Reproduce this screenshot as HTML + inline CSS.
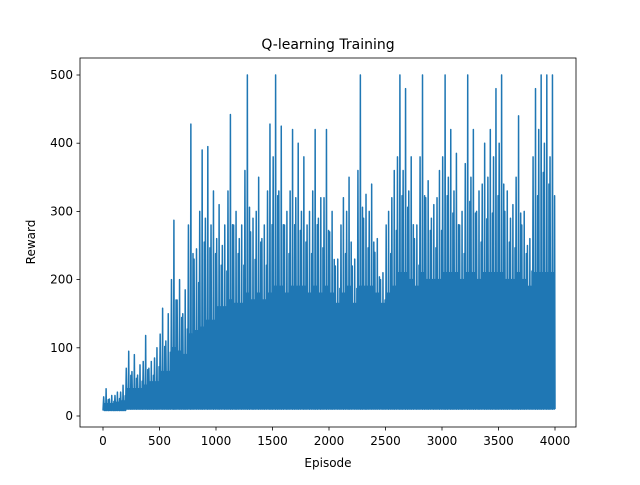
<!DOCTYPE html>
<html><head><meta charset="utf-8"><style>
body{margin:0;background:#fff}
svg{font-family:"DejaVu Sans","Liberation Sans",sans-serif}
</style></head><body>
<svg id="chart" width="640" height="480" viewBox="0 0 640 480" xmlns="http://www.w3.org/2000/svg">
<rect width="640" height="480" fill="#fff"/>
<g id="plot"></g>
<rect x="80" y="58" width="496" height="369" fill="none" stroke="#000" stroke-width="0.8"/>
<g id="axes"></g>
<text x="328" y="49" font-size="14" text-anchor="middle">Q-learning Training</text>
<text x="328" y="467" font-size="12" text-anchor="middle">Episode</text>
<text transform="translate(35,242) rotate(-90)" font-size="12" text-anchor="middle">Reward</text>
</svg>
<script>
const binSize = 50;
const peaks = [40,30,35,45,95,90,75,118,80,100,158,150,287,200,185,428,245,390,395,330,310,280,442,300,280,500,290,350,280,428,500,425,300,420,400,380,300,420,320,420,300,230,320,350,230,500,325,340,260,210,300,360,500,480,380,280,500,345,310,360,500,420,385,300,500,420,330,400,420,480,500,330,310,440,300,260,480,500,500,500];
const mids = [28,25,30,35,70,65,60,80,70,85,120,110,200,170,150,280,230,300,290,280,260,250,330,280,260,360,270,300,260,330,380,330,280,330,320,300,280,330,290,320,270,220,280,300,220,360,290,300,240,200,280,320,380,360,330,260,380,320,290,320,380,350,330,280,370,350,300,340,350,380,400,300,290,350,280,250,380,420,400,380];
const cores = [18,18,20,22,40,40,40,45,50,50,65,65,100,95,90,120,125,130,140,140,160,160,170,165,165,180,170,180,170,180,190,190,180,190,190,190,180,190,180,190,180,165,180,190,165,190,190,190,180,165,180,190,210,210,200,190,210,200,200,200,210,210,210,200,210,210,200,210,210,210,210,200,200,210,200,190,210,210,210,210];
const lows = [8,8,8,8,10,10,10,10,10,10,10,10,10,10,10,10,10,10,10,10,10,10,10,10,10,10,10,10,10,10,10,10,10,10,10,10,10,10,10,10,10,10,10,10,10,10,10,10,10,10,10,10,10,10,10,10,10,10,10,10,10,10,10,10,10,10,10,10,10,10,10,10,10,10,10,10,10,10,10,10];
const xTicks = [0,500,1000,1500,2000,2500,3000,3500,4000];
const yTicks = [0,100,200,300,400,500];
const X = v => 103 + v * (452/4000);
const Y = v => 416 - v * (341/500);
const NS = "http://www.w3.org/2000/svg";
const plotG = document.getElementById('plot');
const axesG = document.getElementById('axes');
const bandTop = [], bandBot = [];
cores.forEach((c,i)=>{const x0=X(i*binSize),x1=X((i+1)*binSize);bandTop.push(`${x0},${Y(c)}`,`${x1},${Y(c)}`);});
lows.forEach((l,i)=>{const x0=X(i*binSize),x1=X((i+1)*binSize);bandBot.unshift(`${x1},${Y(l)}`,`${x0},${Y(l)}`);});
const band = document.createElementNS(NS,'polygon');


band.setAttribute('points', bandTop.concat(bandBot).join(' '));
band.setAttribute('fill', '#1f77b4');
plotG.appendChild(band);
let d = '';
peaks.forEach((p,i)=>{
  const e0 = i*binSize;
  const m = mids[i], c = cores[i], l = lows[i];
  const seq = [[0,l],[0.12,m],[0.24,l],[0.36,c],[0.48,l],[0.55,p],[0.62,l],[0.75,c],[0.87,l],[0.93,m*0.85],[1,l]];
  seq.forEach(([f,v],k)=>{d += (i===0&&k===0?'M':'L') + X(e0+f*binSize).toFixed(2)+','+Y(v).toFixed(2)+' ';});
});
const line = document.createElementNS(NS,'path');


line.setAttribute('d', d);
line.setAttribute('fill', 'none');
line.setAttribute('stroke', '#1f77b4');
line.setAttribute('stroke-width', '1.5');
line.setAttribute('stroke-linejoin', 'round');
plotG.appendChild(line);
xTicks.forEach(t=>{
  const tk = document.createElementNS(NS,'line');
  
  
  tk.setAttribute('x1',X(t));tk.setAttribute('x2',X(t));tk.setAttribute('y1',427);tk.setAttribute('y2',430.5);tk.setAttribute('stroke','#000');tk.setAttribute('stroke-width','0.8');
  axesG.appendChild(tk);
  const tx = document.createElementNS(NS,'text');
  
  
  tx.setAttribute('x',X(t));tx.setAttribute('y',445);tx.setAttribute('font-size','12');tx.setAttribute('text-anchor','middle');
  tx.textContent = t;
  axesG.appendChild(tx);
});
yTicks.forEach(t=>{
  const tk = document.createElementNS(NS,'line');
  
  
  tk.setAttribute('x1',76.5);tk.setAttribute('x2',80);tk.setAttribute('y1',Y(t));tk.setAttribute('y2',Y(t));tk.setAttribute('stroke','#000');tk.setAttribute('stroke-width','0.8');
  axesG.appendChild(tk);
  const tx = document.createElementNS(NS,'text');
  
  
  tx.setAttribute('x',73);tx.setAttribute('y',Y(t)+4);tx.setAttribute('font-size','12');tx.setAttribute('text-anchor','end');
  tx.textContent = t;
  axesG.appendChild(tx);
});
</script>
</body></html>
